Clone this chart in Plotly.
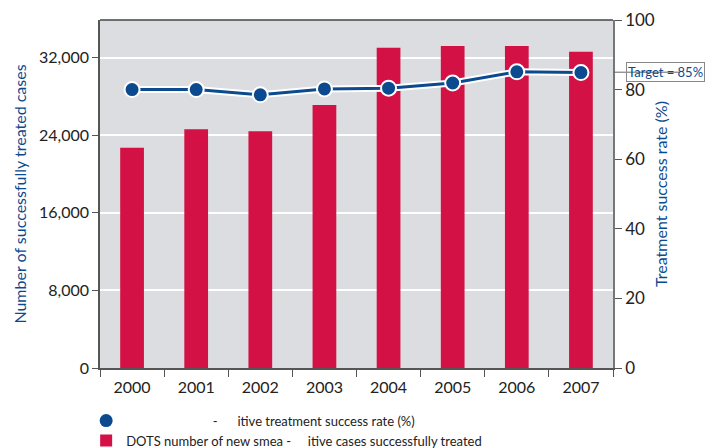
import plotly.graph_objects as go

years = ["2000", "2001", "2002", "2003", "2004", "2005", "2006", "2007"]
cases_treated = [22700, 24600, 24400, 27100, 33000, 33200, 33200, 32600]
success_rate = [80.0, 80.0, 78.5, 80.2, 80.4, 81.9, 85.1, 84.9]
target_rate = 85
left_ticks = [0, 8000, 16000, 24000, 32000]
right_ticks = [0, 20, 40, 60, 80, 100]

RED = "#d31145"
BLUE = "#0b4a8e"
FONT = "Lato"

fig = go.Figure()

fig.add_trace(go.Bar(
    x=years, y=cases_treated, marker=dict(color=RED, line=dict(width=0)),
    width=0.37, name="DOTS number of new smea\u00a0-\u00a0\u00a0\u00a0\u00a0\u00a0itive cases successfully treated",
    legendrank=2, yaxis="y",
))

# white halo under the success-rate line
fig.add_trace(go.Scatter(
    x=years, y=success_rate, mode="lines", yaxis="y2",
    line=dict(color="white", width=7), showlegend=False, hoverinfo="skip",
))
fig.add_trace(go.Scatter(
    x=years, y=success_rate, mode="lines+markers", yaxis="y2",
    line=dict(color=BLUE, width=3),
    marker=dict(size=15, color=BLUE, line=dict(color="white", width=2)),
    showlegend=False,
))
# legend entry: marker only
fig.add_trace(go.Scatter(
    x=[None], y=[None], mode="markers", yaxis="y2",
    marker=dict(size=13, color=BLUE),
    name="\u00a0" * 26 + "-" + "\u00a0" * 6 + "itive treatment success rate (%)",
    legendrank=1,
))

fig.update_layout(
    width=705, height=448,
    margin=dict(l=100, r=92, t=20, b=80, autoexpand=False),
    paper_bgcolor="white", plot_bgcolor="#dcdde0",
    font=dict(family=FONT, size=15, color="#222222"),
    xaxis=dict(
        type="category", tickson="boundaries", ticks="outside", ticklen=7,
        tickcolor="#555555", showline=True, linecolor="#555555", linewidth=1.5,
        showgrid=False, tickfont=dict(size=16, color="#222222"),
        ticklabelstandoff=4,
        range=[-0.5, 7.5],
    ),
    yaxis=dict(
        range=[0, 35870], tickvals=left_ticks, tickformat=",",
        ticks="outside", ticklen=6, tickcolor="#555555",
        showline=True, linecolor="#555555", linewidth=1.5, mirror=False,
        gridcolor="white", gridwidth=1.5, zeroline=False,
        tickfont=dict(size=16, color="#222222"),
        title=dict(text="Number of successfully treated cases",
                   font=dict(size=16, color=BLUE), standoff=8),
    ),
    yaxis2=dict(
        range=[0, 100], tickvals=right_ticks, overlaying="y", side="right",
        ticks="outside", ticklen=7, tickcolor="#555555",
        showline=True, linecolor="#777777", linewidth=1.5,
        showgrid=False, zeroline=False,
        tickfont=dict(size=17, color="#222222"),
        title=dict(text="Treatment success rate (%)",
                   font=dict(size=16, color=BLUE), standoff=2),
    ),
    legend=dict(
        x=-0.027, y=-0.108, xanchor="left", yanchor="top",
        bgcolor="rgba(0,0,0,0)", font=dict(size=13, color="#222222"),
        tracegroupgap=0, itemwidth=30,
    ),
    showlegend=True,
)

# top frame line
fig.add_shape(type="line", xref="paper", yref="paper", x0=0, x1=1, y0=1, y1=1,
              line=dict(color="#444444", width=1.5))

# target marker at 85%
fig.add_shape(type="line", xref="paper", yref="y2", x0=1, x1=1.13,
              y0=target_rate, y1=target_rate, line=dict(color="#666666", width=1))
fig.add_annotation(
    xref="paper", yref="y2", x=1.025, y=target_rate, xanchor="left", yanchor="middle",
    text=f"Target = {target_rate}%", showarrow=False,
    font=dict(size=13, color=BLUE), bordercolor="#888888", borderwidth=1, borderpad=1,
)

fig.write_html("out.html")
